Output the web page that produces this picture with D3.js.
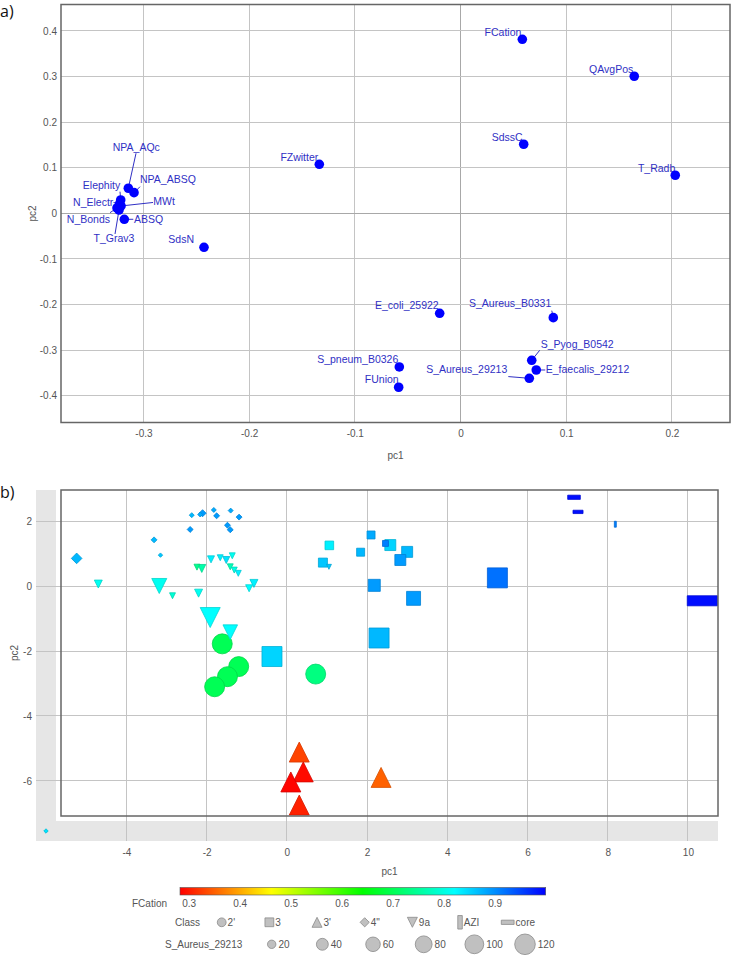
<!DOCTYPE html>
<html>
<head>
<meta charset="utf-8">
<script src="https://cdn.jsdelivr.net/npm/d3@7"></script>
<style>
body { margin: 0; background: #fff; }
svg { display: block; }
text { font-family: Arial, "Liberation Sans", sans-serif; }
</style>
</head>
<body>
<div id="chart-area"></div>
<script>
/*
*    pca loadings (a) and scores (b)
*/

// ---- panel a : loadings
var loadNames = ["FCation", "QAvgPos", "SdssC", "FZwitter", "T_Radb", "NPA_AQc", "NPA_ABSQ", "Elephity",
	"N_Electr", "MWt", "N_Bonds", "T_Grav3", "ABSQ", "SdsN", "E_coli_25922", "S_Aureus_B0331",
	"S_Pyog_B0542", "E_faecalis_29212", "S_Aureus_29213", "S_pneum_B0326", "FUnion"];
var loadPc1 = [0.0585, 0.1644, 0.0598, -0.1336, 0.2032, -0.3143, -0.3089, -0.3215,
	-0.3226, -0.3212, -0.3250, -0.3231, -0.3181, -0.2427, -0.0197, 0.0878,
	0.0674, 0.0717, 0.0651, -0.0579, -0.0585];
var loadPc2 = [0.3817, 0.3006, 0.1514, 0.1075, 0.0834, 0.0549, 0.0452, 0.0292,
	0.0204, 0.0160, 0.0116, 0.0072, -0.0132, -0.0746, -0.2194, -0.2290,
	-0.3225, -0.3438, -0.3620, -0.3372, -0.3817];
var aXTicks = [-0.3, -0.2, -0.1, 0, 0.1, 0.2];
var aYTicks = [-0.4, -0.3, -0.2, -0.1, 0, 0.1, 0.2, 0.3, 0.4];

// ---- panel b : scores
var cmpPc1 = [-2.37, -2.10, -2.16, -1.82, -1.75, -1.40, -1.19, -2.41, -1.48, -1.41, -3.31, -3.15, -5.24, null,
	-4.70, -3.18, -2.85, -2.20, -1.91, -1.41, -2.24, -2.12, -1.89, -1.66, -1.51, -1.36, -1.41, -1.31, -1.21, -0.94, -0.82, 1.05,
	1.06, 0.90, 2.10, 1.84, 2.46, 2.58, 3.00, 2.83, 2.18, 3.16, 5.25, 2.30, -0.37,
	-1.61, -1.20, -1.48, -1.80, 0.72,
	0.31, 0.41, 0.10, 0.31, 2.35,
	8.19, 7.16, 7.26, 10.36];
var cmpPc2 = [2.18, 2.24, 2.20, 2.34, 2.16, 2.32, 2.12, 1.74, 1.87, 1.73, 1.42, 0.95, 0.85, null,
	0.06, 0.00, -0.30, -0.22, -0.97, -1.42, 0.58, 0.54, 0.82, 0.87, 0.80, 0.93, 0.59, 0.49, 0.39, -0.07, 0.08, 0.59,
	1.25, 0.72, 1.57, 1.04, 1.31, 1.26, 1.05, 0.80, 0.02, -0.38, 0.25, -1.60, -2.17,
	-1.78, -2.48, -2.79, -3.10, -2.71,
	-5.11, -5.72, -6.03, -6.74, -5.89,
	1.90, 2.73, 2.28, -0.455];
var cmpClass = ["4''", "4''", "4''", "4''", "4''", "4''", "4''", "4''", "4''", "4''", "4''", "4''", "4''", "4''",
	"9a", "9a", "9a", "9a", "9a", "9a", "9a", "9a", "9a", "9a", "9a", "9a", "9a", "9a", "9a", "9a", "9a", "9a",
	"3", "3", "3", "3", "3", "3", "3", "3", "3", "3", "3", "3", "3",
	"2'", "2'", "2'", "2'", "2'",
	"3'", "3'", "3'", "3'", "3'",
	"AZI", "core", "core", "core"];
var cmpFCation = [0.87, 0.89, 0.88, 0.88, 0.89, 0.88, 0.89, 0.89, 0.89, 0.89, 0.87, 0.86, 0.87, 0.84,
	0.81, 0.81, 0.79, 0.81, 0.82, 0.82, 0.74, 0.76, 0.83, 0.83, 0.84, 0.81, 0.77, 0.80, 0.83, 0.82, 0.83, 0.86,
	0.83, 0.86, 0.88, 0.87, 0.91, 0.85, 0.87, 0.89, 0.89, 0.89, 0.92, 0.87, 0.85,
	0.70, 0.70, 0.70, 0.70, 0.73,
	0.33, 0.29, 0.285, 0.305, 0.35,
	0.91, 0.99, 0.99, 0.99];
var cmpSize = [7, 14, 7, 7, 10, 7, 10, 10, 10, 10, 10, 5.5, 32, 5.5,
	18, 64, 10, 18, 113, 60, 10, 18, 14, 10, 14, 10, 10, 10, 10, 14, 18, 7,
	21, 23, 18, 18, 10, 34, 34, 34, 41, 55, 113, 113, 113,
	113, 113, 113, 113, 113,
	113, 113, 113, 113, 113,
	3.3, 15, 9.5, 86];
var bXTicks = [-4, -2, 0, 2, 4, 6, 8, 10];
var bYTicks = [-6, -4, -2, 0, 2];

// legend
var classNames = ["2'", "3", "3'", "4''", "9a", "AZI", "core"];
var classLabels = ["2'", "3", "3'", "4\"", "9a", "AZI", "core"];
var sizeTicks = [20, 40, 60, 80, 100, 120];
var fcTicks = [0.3, 0.4, 0.5, 0.6, 0.7, 0.8, 0.9];
var fcStops = [0.282, 0.461, 0.640, 0.820, 0.999];
var fcColors = ["#ff0000", "#ffff00", "#00ff00", "#00ffff", "#0000ff"];

var svg = d3.select("#chart-area").append("svg")
	.attr("width", 732)
	.attr("height", 955);

var fmt = function(d) { return String(+d.toFixed(1)); };
var tickColor = "#555";
var gridColor = "#c4c4c4";
var labColor = "#3030c4";

// ======== panel a
var A = {left: 61, right: 730, top: 4.5, bottom: 422.5};
var xa = d3.scaleLinear().domain([-0.378, 0.255]).range([A.left, A.right]);
var ya = d3.scaleLinear().domain([-0.459, 0.458]).range([A.bottom, A.top]);
var ga = svg.append("g");

ga.selectAll(".vgrid").data(aXTicks).enter().append("line")
	.attr("x1", (d) => Math.floor(xa(d)) + 0.5).attr("x2", (d) => Math.floor(xa(d)) + 0.5)
	.attr("y1", A.top).attr("y2", A.bottom)
	.attr("stroke", (d) => d === 0 ? "#a8a8a8" : gridColor);
ga.selectAll(".hgrid").data(aYTicks).enter().append("line")
	.attr("y1", (d) => Math.floor(ya(d)) + 0.5).attr("y2", (d) => Math.floor(ya(d)) + 0.5)
	.attr("x1", A.left).attr("x2", A.right)
	.attr("stroke", (d) => d === 0 ? "#a8a8a8" : gridColor);

ga.append("rect")
	.attr("x", A.left).attr("y", A.top)
	.attr("width", A.right - A.left).attr("height", A.bottom - A.top)
	.attr("fill", "none").attr("stroke", "#666").attr("stroke-width", 1.5);

ga.append("g").attr("transform", "translate(0," + A.bottom + ")")
	.call(d3.axisBottom(xa).tickValues(aXTicks).tickSize(0).tickPadding(7.5).tickFormat(fmt))
	.call((g) => g.select(".domain").remove())
	.selectAll("text").attr("fill", tickColor).style("font-size", "10px");
ga.append("g").attr("transform", "translate(" + A.left + ",0)")
	.call(d3.axisLeft(ya).tickValues(aYTicks).tickSize(0).tickPadding(4).tickFormat(fmt))
	.call((g) => g.select(".domain").remove())
	.selectAll("text").attr("fill", tickColor).style("font-size", "10px");

ga.append("text")
	.attr("x", (A.left + A.right) / 2).attr("y", 459)
	.attr("text-anchor", "middle").attr("font-size", "10px").attr("fill", tickColor)
	.text("pc1");
ga.append("text")
	.attr("transform", "translate(35.5," + (A.top + A.bottom) / 2 + ") rotate(-90)")
	.attr("text-anchor", "middle").attr("font-size", "10px").attr("fill", tickColor)
	.text("pc2");

// label placement (pixel offsets from the dot), lead = end of leader line
var labelLayout = {
	"FCation": {dx: -1, dy: -3, anchor: "end"},
	"QAvgPos": {dx: -1, dy: -3, anchor: "end"},
	"SdssC": {dx: -1, dy: -3, anchor: "end"},
	"FZwitter": {dx: -1, dy: -3.5, anchor: "end"},
	"T_Radb": {dx: 0, dy: -3, anchor: "end"},
	"NPA_AQc": {dx: 8, dy: -37.6, anchor: "middle", lead: [7.7, -35]},
	"NPA_ABSQ": {dx: 6, dy: -10, anchor: "start", lead: [6, -6]},
	"Elephity": {dx: -0.5, dy: -10.7, anchor: "end", lead: [-0.7, -8.3]},
	"N_Electr": {dx: -6.2, dy: 2, anchor: "end", lead: [-6, -1.5]},
	"MWt": {dx: 32.3, dy: -0.7, anchor: "start", lead: [32, -3.5]},
	"N_Bonds": {dx: -7, dy: 14.7, anchor: "end", lead: [-7, 4.7]},
	"T_Grav3": {dx: -5, dy: 32.3, anchor: "middle", lead: [-4, 24]},
	"ABSQ": {dx: 9.7, dy: 3.4, anchor: "start", lead: [9, 0]},
	"SdsN": {dx: -10, dy: -4, anchor: "end"},
	"E_coli_25922": {dx: -1, dy: -4, anchor: "end"},
	"S_Aureus_B0331": {dx: -2, dy: -11, anchor: "end", lead: [-1.5, -7]},
	"S_Pyog_B0542": {dx: 9, dy: -12.5, anchor: "start", lead: [8, -10]},
	"E_faecalis_29212": {dx: 9.5, dy: 3.5, anchor: "start", lead: [9, 0]},
	"S_Aureus_29213": {dx: -22, dy: -5, anchor: "end", lead: [-21, -1.7]},
	"S_pneum_B0326": {dx: -1, dy: -4, anchor: "end"},
	"FUnion": {dx: 0, dy: -4, anchor: "end"}
};

var loadings = loadNames.map((n, i) => ({name: n, pc1: loadPc1[i], pc2: loadPc2[i]}));

ga.selectAll(".lead").data(loadings.filter((d) => labelLayout[d.name].lead)).enter().append("line")
	.attr("x1", (d) => xa(d.pc1)).attr("y1", (d) => ya(d.pc2))
	.attr("x2", (d) => xa(d.pc1) + labelLayout[d.name].lead[0])
	.attr("y2", (d) => ya(d.pc2) + labelLayout[d.name].lead[1])
	.attr("stroke", labColor).attr("stroke-width", 1);

ga.selectAll(".lab").data(loadings).enter().append("text")
	.attr("x", (d) => xa(d.pc1) + labelLayout[d.name].dx)
	.attr("y", (d) => ya(d.pc2) + labelLayout[d.name].dy)
	.attr("text-anchor", (d) => labelLayout[d.name].anchor)
	.attr("font-size", "10.5px").attr("fill", labColor)
	.text((d) => d.name);

ga.selectAll(".dot").data(loadings).enter().append("circle")
	.attr("cx", (d) => xa(d.pc1)).attr("cy", (d) => ya(d.pc2))
	.attr("r", 4.8).attr("fill", "#0000ff");

svg.append("text").attr("x", 0).attr("y", 17)
	.attr("font-size", "16px").style("font-family", "'Open Sans', sans-serif").attr("fill", "#111")
	.text("a)");

// ======== panel b
var B = {left: 61, right: 718, top: 490, bottom: 816};
var xb = d3.scaleLinear().domain([-5.63, 10.75]).range([B.left, B.right]);
var yb = d3.scaleLinear().domain([-7.077, 2.954]).range([B.bottom, B.top]);
var color = d3.scaleLinear().domain(fcStops).range(fcColors);
var size = d3.scaleSqrt().domain([0, 120]).range([0, 10.3]);
var gb = svg.append("g");

// outer zone for empty values
gb.append("rect").attr("x", 36).attr("y", B.top).attr("width", B.right - 36).attr("height", 841 - B.top)
	.attr("fill", "#e6e6e6");
gb.append("rect").attr("x", 56).attr("y", B.top).attr("width", B.right - 56).attr("height", 821 - B.top)
	.attr("fill", "#fff");

gb.selectAll(".vgrid").data(bXTicks).enter().append("line")
	.attr("x1", (d) => Math.floor(xb(d)) + 0.5).attr("x2", (d) => Math.floor(xb(d)) + 0.5)
	.attr("y1", B.top).attr("y2", 841)
	.attr("stroke", gridColor);
gb.selectAll(".hgrid").data(bYTicks).enter().append("line")
	.attr("y1", (d) => Math.floor(yb(d)) + 0.5).attr("y2", (d) => Math.floor(yb(d)) + 0.5)
	.attr("x1", 36).attr("x2", B.right)
	.attr("stroke", gridColor);

gb.append("g").attr("transform", "translate(0,841)")
	.call(d3.axisBottom(xb).tickValues(bXTicks).tickSize(0).tickPadding(7.5).tickFormat(fmt))
	.call((g) => g.select(".domain").remove())
	.selectAll("text").attr("fill", tickColor).style("font-size", "10px");
gb.append("g").attr("transform", "translate(36,0)")
	.call(d3.axisLeft(yb).tickValues(bYTicks).tickSize(0).tickPadding(4).tickFormat(fmt))
	.call((g) => g.select(".domain").remove())
	.selectAll("text").attr("fill", tickColor).style("font-size", "10px");

gb.append("text")
	.attr("x", (B.left + B.right) / 2).attr("y", 875)
	.attr("text-anchor", "middle").attr("font-size", "10px").attr("fill", tickColor)
	.text("pc1");
gb.append("text")
	.attr("transform", "translate(18," + (B.top + B.bottom) / 2 + ") rotate(-90)")
	.attr("text-anchor", "middle").attr("font-size", "10px").attr("fill", tickColor)
	.text("pc2");

function shapePath(cls, s) {
	var w, h;
	switch (cls) {
		case "2'":
			return "M" + s + ",0A" + s + "," + s + " 0 1,1 " + (-s) + ",0A" + s + "," + s + " 0 1,1 " + s + ",0Z";
		case "3":
			return "M" + (-s) + "," + (-s) + "H" + s + "V" + s + "H" + (-s) + "Z";
		case "3'":
			return "M0," + (-s) + "L" + s + "," + s + "L" + (-s) + "," + s + "Z";
		case "4''":
			return "M0," + (-s) + "L" + s + ",0L0," + s + "L" + (-s) + ",0Z";
		case "9a":
			return "M" + (-s) + "," + (-s) + "L" + s + "," + (-s) + "L0," + s + "Z";
		case "AZI":
			w = s / Math.sqrt(3); h = s * Math.sqrt(3);
			return "M" + (-w) + "," + (-h) + "H" + w + "V" + h + "H" + (-w) + "Z";
		default:
			w = s * Math.sqrt(3); h = s / Math.sqrt(3);
			return "M" + (-w) + "," + (-h) + "H" + w + "V" + h + "H" + (-w) + "Z";
	}
}

var scores = cmpPc1.map((d, i) => ({pc1: d, pc2: cmpPc2[i], cls: cmpClass[i], fc: cmpFCation[i], v: cmpSize[i]}));
scores.sort((a, b) => b.v - a.v);

svg.append("defs").append("clipPath").attr("id", "plotclip")
	.append("rect").attr("x", B.left).attr("y", B.top)
	.attr("width", B.right - B.left).attr("height", B.bottom - B.top);

var inside = scores.filter((d) => d.pc1 !== null);
var outside = scores.filter((d) => d.pc1 === null);

gb.append("g").attr("clip-path", "url(#plotclip)")
	.selectAll("path").data(inside).enter().append("path")
	.attr("transform", (d) => "translate(" + xb(d.pc1) + "," + yb(d.pc2) + ")")
	.attr("d", (d) => shapePath(d.cls, size(d.v)))
	.attr("fill", (d) => color(d.fc))
	.attr("stroke", (d) => d3.color(color(d.fc)).darker(0.5))
	.attr("stroke-width", 0.8);

// rows with empty pc values sit in the grey corner
gb.selectAll(".miss").data(outside).enter().append("path")
	.attr("transform", "translate(46,831)")
	.attr("d", (d) => shapePath(d.cls, size(d.v)))
	.attr("fill", (d) => color(d.fc))
	.attr("stroke", (d) => d3.color(color(d.fc)).darker(0.5))
	.attr("stroke-width", 0.8);

gb.append("rect")
	.attr("x", B.left).attr("y", B.top)
	.attr("width", B.right - B.left).attr("height", B.bottom - B.top)
	.attr("fill", "none").attr("stroke", "#666").attr("stroke-width", 1.5);

svg.append("text").attr("x", 0).attr("y", 498)
	.attr("font-size", "16px").style("font-family", "'Open Sans', sans-serif").attr("fill", "#111")
	.text("b)");

// ======== legend
var lg = svg.append("g");
var cbar = d3.scaleLinear().domain([fcStops[0], fcStops[fcStops.length - 1]]).range([180, 545.7]);

var grad = svg.select("defs").append("linearGradient").attr("id", "fcgrad");
grad.selectAll("stop").data(fcStops).enter().append("stop")
	.attr("offset", (d) => (cbar(d) - 180) / (545.7 - 180))
	.attr("stop-color", (d, i) => fcColors[i]);

lg.append("rect").attr("x", 180).attr("y", 887.5).attr("width", 365.7).attr("height", 7.5)
	.attr("fill", "url(#fcgrad)").attr("stroke", "#555").attr("stroke-width", 0.6);
lg.append("text").attr("x", 167).attr("y", 906.5).attr("text-anchor", "end")
	.attr("font-size", "10px").attr("fill", tickColor).text("FCation");
lg.selectAll(".fct").data(fcTicks).enter().append("text")
	.attr("x", (d) => cbar(d)).attr("y", 906.5).attr("text-anchor", "middle")
	.attr("font-size", "10px").attr("fill", tickColor).text(fmt);

// class row
var legShape = {"2'": 4.4, "3": 4.4, "3'": 5, "4''": 4.6, "9a": 5, "AZI": 3.9, "core": 3.7};
var legHalf = {"2'": 4.4, "3": 4.4, "3'": 5, "4''": 4.6, "9a": 5, "AZI": 2.3, "core": 6.4};
var cx = d3.scalePoint().domain(classNames).range([221.7, 507.7]);
lg.append("text").attr("x", 175).attr("y", 925.8)
	.attr("font-size", "10px").attr("fill", tickColor).text("Class");
lg.selectAll(".cls").data(classNames).enter().append("path")
	.attr("transform", (d) => "translate(" + cx(d) + ",922.3)")
	.attr("d", (d) => shapePath(d, legShape[d]))
	.attr("fill", "#c0c0c0").attr("stroke", "#8a8a8a").attr("stroke-width", 0.8);
lg.selectAll(".clst").data(classNames).enter().append("text")
	.attr("x", (d) => cx(d) + legHalf[d] + 1.5).attr("y", 925.8)
	.attr("font-size", "10px").attr("fill", tickColor)
	.text((d, i) => classLabels[i]);

// size row
var sx = d3.scalePoint().domain(sizeTicks).range([271.7, 525]);
lg.append("text").attr("x", 165).attr("y", 947.8)
	.attr("font-size", "10px").attr("fill", tickColor).text("S_Aureus_29213");
lg.selectAll(".sz").data(sizeTicks).enter().append("circle")
	.attr("cx", (d) => sx(d)).attr("cy", 944.3).attr("r", (d) => size(d))
	.attr("fill", "#c0c0c0").attr("stroke", "#8a8a8a").attr("stroke-width", 0.8);
lg.selectAll(".szt").data(sizeTicks).enter().append("text")
	.attr("x", (d) => sx(d) + size(d) + 2.5).attr("y", 947.8)
	.attr("font-size", "10px").attr("fill", tickColor).text((d) => d);
</script>
</body>
</html>
